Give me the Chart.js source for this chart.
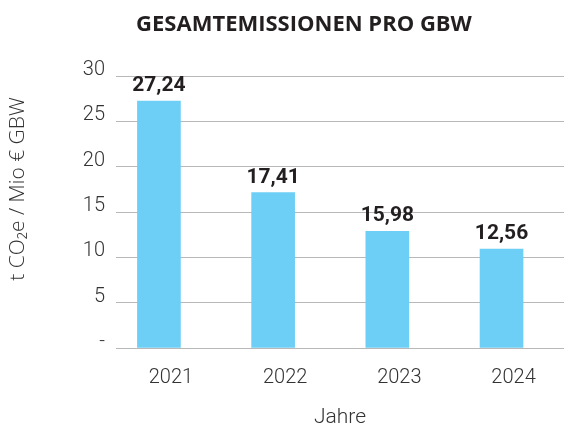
<!DOCTYPE html>
<html><head><meta charset="utf-8">
<script src="https://cdn.jsdelivr.net/npm/chart.js@4"></script>
<style>html,body{margin:0;padding:0;background:#fff}#wrap{width:564px;height:430px;position:relative}</style>
</head><body><div id="wrap"><canvas id="c" width="564" height="430"></canvas></div>
<script>
const categories = ['2021', '2022', '2023', '2024'];
const barValues = [27.24, 17.14, 12.87, 10.9];
const valueLabels = ['27,24', '17,41', '15,98', '12,56'];
const yTickValues = [0, 5, 10, 15, 20, 25, 30];
const yTickLabels = ['-', '5', '10', '15', '20', '25', '30'];
const chartTitle = 'GESAMTEMISSIONEN PRO GBW';
const yTitle = 't CO₂e / Mio € GBW';
const xTitle = 'Jahre';

const LIGHT = 'Roboto, "Open Sans", sans-serif';
const OPEN = '"Open Sans", sans-serif';

const overlay = {
  id: 'overlay',
  afterDatasetsDraw(chart) {
    const ctx = chart.ctx;
    const meta = chart.getDatasetMeta(0);
    ctx.save();
    ctx.fillStyle = '#231f20';
    ctx.font = 'bold 21px ' + LIGHT;
    ctx.textAlign = 'center';
    ctx.textBaseline = 'alphabetic';
    meta.data.forEach((bar, i) => {
      ctx.fillText(valueLabels[i], bar.x, bar.y - 10);
    });
    ctx.restore();
  },
  afterDraw(chart) {
    const ctx = chart.ctx;
    ctx.save();
    ctx.fillStyle = '#231f20';
    ctx.font = 'bold 22px ' + OPEN;
    ctx.textAlign = 'center';
    ctx.textBaseline = 'alphabetic';
    ctx.fillText(chartTitle, 304, 31);
    ctx.translate(18, 189);
    ctx.rotate(-Math.PI / 2);
    ctx.fillStyle = '#333333';
    ctx.font = '300 21px ' + OPEN;
    ctx.textBaseline = 'middle';
    ctx.fillText(yTitle, 0, 0);
    ctx.restore();
  }
};

new Chart(document.getElementById('c'), {
  type: 'bar',
  data: {
    datasets: [{
      data: categories.map((c, i) => ({ x: i, y: barValues[i] })),
      backgroundColor: '#6dcff6',
      borderWidth: 0,
      barThickness: 43
    }]
  },
  options: {
    responsive: false,
    animation: false,
    events: [],
    layout: { padding: { top: 76, left: 0, right: 0, bottom: 0 } },
    plugins: { legend: { display: false }, tooltip: { enabled: false } },
    scales: {
      x: {
        type: 'linear',
        offset: false,
        min: -0.376,
        max: 3.547,
        grid: { display: false },
        border: { display: false },
        afterBuildTicks: s => { s.ticks = categories.map((c, i) => ({ value: i })); },
        afterFit: s => { s.height = 82; },
        ticks: {
          autoSkip: false, maxRotation: 0, labelOffset: 12, padding: 10,
          color: '#333333', font: { family: LIGHT, size: 20, weight: '300' },
          callback: v => categories[v] ?? ''
        },
        title: {
          display: true, text: xTitle, color: '#333333',
          font: { family: LIGHT, size: 21, weight: '300' }, padding: { top: 0, bottom: 0 }
        }
      },
      y: {
        min: 0, max: 30,
        afterBuildTicks: s => { s.ticks = yTickValues.map(v => ({ value: v })); },
        afterFit: s => { s.width = 116; },
        grid: { color: '#b8b8b8', lineWidth: 1, drawTicks: false },
        border: { display: false },
        ticks: {
          padding: 11, labelOffset: -6, color: '#333333',
          font: { family: LIGHT, size: 20, weight: '300' },
          callback: v => yTickLabels[yTickValues.indexOf(v)]
        }
      }
    }
  },
  plugins: [overlay]
});
</script></body></html>
